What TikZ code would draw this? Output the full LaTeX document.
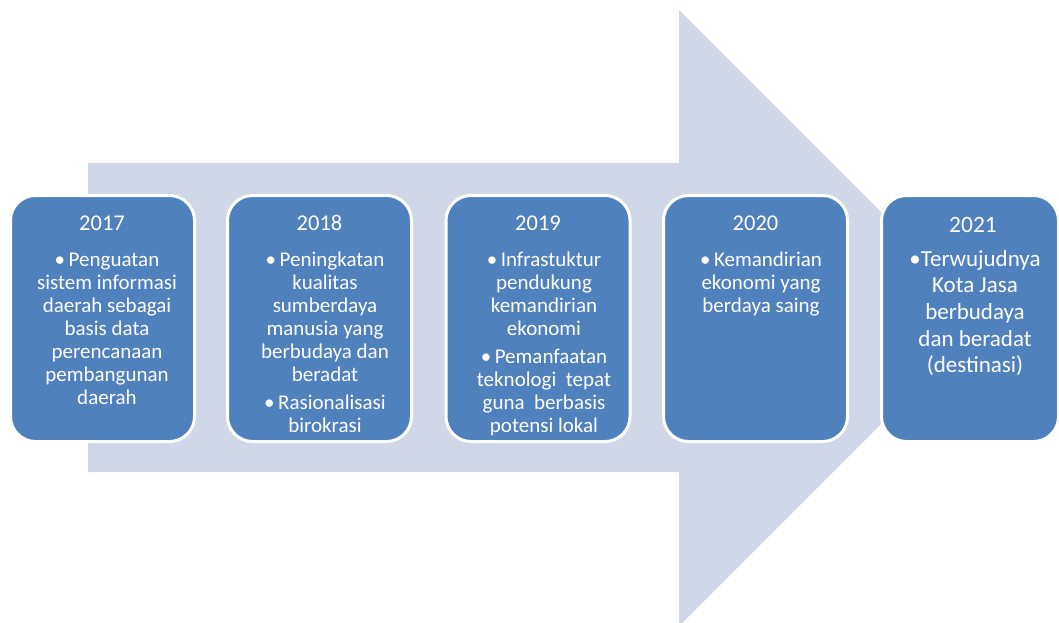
\documentclass[tikz,border=0pt]{standalone}
\usepackage{fontspec}
\setmainfont{Carlito}
\definecolor{arrowfill}{HTML}{D0D8E8}
\definecolor{boxfill}{HTML}{4F81BD}
\begin{document}
\begin{tikzpicture}[x=1pt,y=-1pt,
  stagebox/.style={draw=white, line width=3pt, fill=boxfill, rounded corners=25pt, minimum width=184pt, minimum height=246pt, inner sep=0pt},
  yeartext/.style={text=white, anchor=base, font=\fontsize{22.5}{26}\selectfont, inner sep=0pt},
  bodytext/.style={text=white, anchor=north, align=center, font=\fontsize{21}{23}\selectfont, inner sep=0pt},
  bigyear/.style={yeartext, font=\fontsize{23.5}{27}\selectfont},
  bigbody/.style={bodytext, font=\fontsize{23}{26.7}\selectfont},
]
\useasboundingbox (0,0) rectangle (1059,622);
\clip (0,0) rectangle (1059,622);
% big background arrow
\fill[arrowfill] (88,163) -- (679,163) -- (679,10) -- (987,318) -- (679,626) -- (679,472) -- (88,472) -- cycle;
% stage boxes
\node[stagebox] (b1) at (102.5,318.5) {};
\node[stagebox] (b2) at (319.5,318.5) {};
\node[stagebox] (b3) at (538,318.5) {};
\node[stagebox] (b4) at (755.5,318.5) {};
\node[stagebox, minimum width=177pt] (b5) at (970,318.5) {};
% years
\node[yeartext] (y1) at (102,230) {2017};
\node[yeartext] (y2) at (319.5,230) {2018};
\node[yeartext] (y3) at (538,230) {2019};
\node[yeartext] (y4) at (755.5,230) {2020};
\node[bigyear] (y5) at (973,232) {2021};
% texts
\node[bodytext] (t1) at (107,250) {\rule{0pt}{16pt}•\,Penguatan\\sistem informasi\\daerah sebagai\\basis data\\perencanaan\\pembangunan\\daerah};
\node[bodytext] (t2) at (325,250) {\rule{0pt}{16pt}•\,Peningkatan\\kualitas\\sumberdaya\\manusia yang\\berbudaya dan\\beradat\\[5pt]•\,Rasionalisasi\\birokrasi};
\node[bodytext] (t3) at (544,250) {\rule{0pt}{16pt}•\,Infrastuktur\\pendukung\\kemandirian\\ekonomi\\[5pt]•\,Pemanfaatan\\teknologi\ \ tepat\\guna\ \ berbasis\\potensi lokal};
\node[bodytext] (t4) at (761,250) {\rule{0pt}{16pt}•\,Kemandirian\\ekonomi yang\\berdaya saing};
\node[bigbody] (t5) at (975,250) {\rule{0pt}{14pt}•Terwujudnya\\Kota Jasa\\berbudaya\\dan beradat\\(destinasi)};
\end{tikzpicture}
\end{document}
